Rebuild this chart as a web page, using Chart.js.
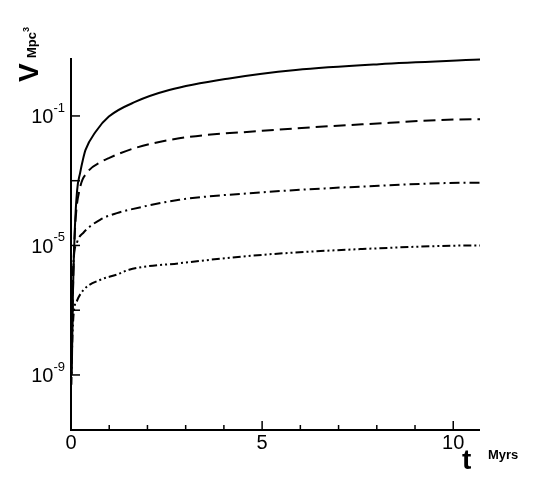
<!DOCTYPE html>
<html><head><meta charset="utf-8">
<script src="https://cdn.jsdelivr.net/npm/chart.js@4"></script>
<style>body{margin:0;background:#fff}#w{width:545px;height:485px}</style>
</head><body><div id="w"><canvas id="c"></canvas></div>
<script>
const xTicks = [0, 5, 10];
const yTickExp = [-1, -3, -5, -7, -9];
const yLabelExp = [-1, -5, -9];
// time (Myrs) and log10(V) per curve
const t1 = [0.02, 0.05, 0.1, 0.16, 0.24, 0.31, 0.38, 0.65, 0.99, 1.69, 2.57, 4.14, 5.88, 8.06, 10.7];
const l1 = [-9.0, -6.5, -4.5, -3.3, -2.75, -2.36, -2.05, -1.48, -1.02, -0.56, -0.2, 0.16, 0.42, 0.6, 0.74];
const t2 = [0.03, 0.07, 0.12, 0.24, 0.42, 0.77, 0.99, 1.65, 2.83, 5.0, 7.62, 10.63, 10.7];
const l2 = [-7.6, -5.5, -4.2, -3.2, -2.75, -2.43, -2.3, -2.0, -1.69, -1.46, -1.26, -1.1, -1.1];
const t3 = [0.02, 0.04, 0.07, 0.16, 0.33, 0.77, 1.2, 1.52, 2.83, 5.0, 7.62, 10.63, 10.7];
const l3 = [-7.8, -6.3, -5.44, -4.9, -4.6, -4.2, -4.0, -3.9, -3.59, -3.36, -3.18, -3.06, -3.06];
const t4 = [0.01, 0.03, 0.07, 0.16, 0.33, 0.77, 1.2, 1.52, 2.83, 5.0, 7.62, 10.63, 10.7];
const l4 = [-9.3, -8.1, -7.1, -6.7, -6.37, -6.06, -5.9, -5.75, -5.55, -5.29, -5.11, -5.0, -5.0];

const mk = (t, l) => t.map((x, i) => ({x, y: Math.pow(10, l[i])}));
const base = {borderColor:'#000', borderWidth:2, pointRadius:0, fill:false, cubicInterpolationMode:'monotone'};

const axes = {
  id:'axes',
  afterDraw(ch){
    const c = ch.ctx, a = ch.chartArea, xs = ch.scales.x, ys = ch.scales.y;
    c.save();
    c.strokeStyle='#000'; c.lineWidth=2;
    c.beginPath(); c.moveTo(a.left, a.top); c.lineTo(a.left, a.bottom); c.lineTo(a.right, a.bottom); c.stroke();
    c.lineWidth=1.5;
    for (let v=1; v<=10; v++){ const px=xs.getPixelForValue(v); const len = v%5===0?9:5;
      c.beginPath(); c.moveTo(px,a.bottom); c.lineTo(px,a.bottom-len); c.stroke(); }
    yTickExp.forEach(e=>{ const py=ys.getPixelForValue(Math.pow(10,e));
      c.beginPath(); c.moveTo(a.left,py); c.lineTo(a.left+9,py); c.stroke(); });
    c.fillStyle='#000';
    c.font='20px "Liberation Sans", Arial'; c.textAlign='center'; c.textBaseline='top';
    xTicks.forEach(v=>c.fillText(String(v), xs.getPixelForValue(v), a.bottom+3));
    yLabelExp.forEach(e=>{ const py=ys.getPixelForValue(Math.pow(10,e));
      c.textAlign='right'; c.textBaseline='middle';
      const sup=String(e); c.font='13px "Liberation Sans", Arial'; const sw=c.measureText(sup).width;
      c.fillText(sup, a.left-6, py-8);
      c.font='20px "Liberation Sans", Arial'; c.fillText('10', a.left-6-sw, py+2); });
    c.font='bold 28px "Liberation Sans", Arial'; c.textAlign='left'; c.textBaseline='alphabetic';
    c.fillText('t', 462, 469);
    c.font='bold 13px "Liberation Sans", Arial'; c.fillText('Myrs', 488, 459);
    c.translate(38, 82); c.rotate(-Math.PI/2);
    c.font='bold 28px "Liberation Sans", Arial'; c.fillText('V', 0, 0);
    c.font='bold 13px "Liberation Sans", Arial'; c.fillText('Mpc', 24, -2);
    c.font='bold 9px "Liberation Sans", Arial'; c.fillText('3', 50, -9);
    c.restore();
  }
};

new Chart(document.getElementById('c'), {
  type:'line',
  data:{datasets:[
    {...base, data:mk(t1,l1)},
    {...base, data:mk(t2,l2), borderDash:[12,6]},
    {...base, data:mk(t3,l3), borderDash:[10,4,2,4]},
    {...base, data:mk(t4,l4), borderDash:[8,3,2,3,2,3]}
  ]},
  options:{responsive:true, maintainAspectRatio:false, animation:false,
    layout:{padding:{left:71, top:58, right:65, bottom:55}},
    plugins:{legend:{display:false}, tooltip:{enabled:false}},
    scales:{
      x:{type:'linear', min:0, max:10.7, display:false},
      y:{type:'logarithmic', min:Math.pow(10,-10.7), max:Math.pow(10,0.79), display:false}
    }},
  plugins:[axes]
});
</script></body></html>
